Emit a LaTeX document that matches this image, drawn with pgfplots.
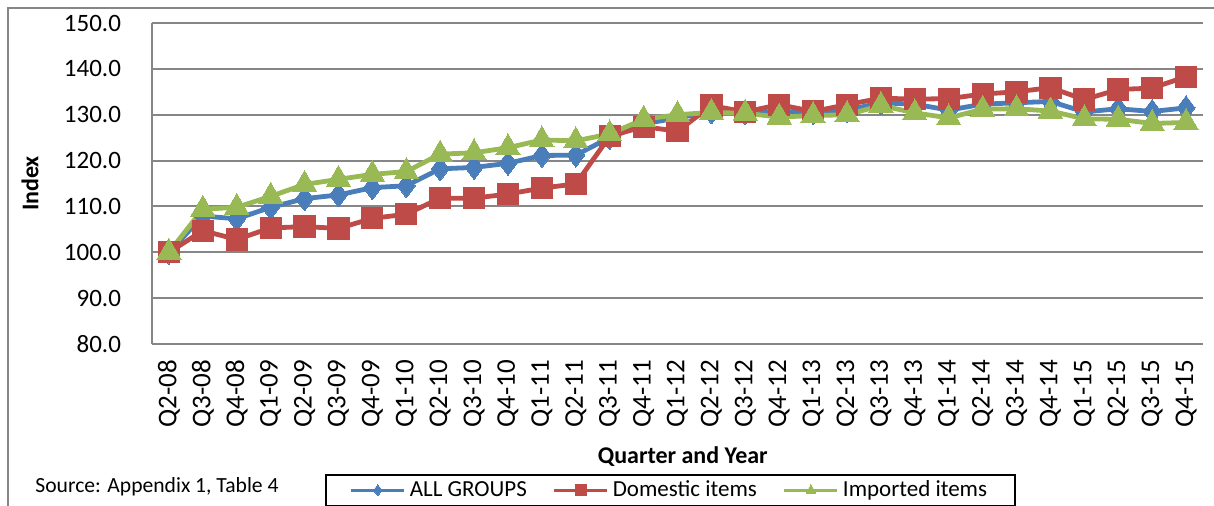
\documentclass[border=0pt]{standalone}
\usepackage{fontspec}
\setmainfont{Carlito}
\usepackage{pgfplots}
\usepackage{pgfplotstable}
\pgfplotsset{compat=1.18}

\definecolor{cblue}{RGB}{74,126,187}
\definecolor{cred}{RGB}{190,75,72}
\definecolor{cgreen}{RGB}{152,185,84}
\definecolor{cgrid}{RGB}{134,134,134}

% x = quarter index (0 = Q2-08 ... 30 = Q4-15)
\pgfplotstableread{
x   all    dom    imp
0   100.0  100.0  100.0
1   107.9  104.7  109.4
2   107.3  102.8  109.8
3   109.8  105.3  112.2
4   111.7  105.6  114.8
5   112.5  105.2  115.9
6   114.1  107.4  117.0
7   114.5  108.3  117.6
8   118.2  111.8  121.4
9   118.5  111.8  121.7
10  119.4  112.7  122.8
11  121.1  114.0  124.5
12  121.2  114.9  124.3
13  125.0  125.3  125.8
14  128.0  127.4  129.0
15  129.3  126.4  130.0
16  130.6  132.0  130.5
17  130.4  130.6  130.3
18  130.7  132.2  129.5
19  130.5  130.7  129.8
20  131.0  132.2  130.0
21  132.6  133.6  132.0
22  132.3  133.4  130.4
23  131.0  133.5  129.3
24  132.3  134.5  131.2
25  132.6  135.0  131.3
26  132.9  135.9  130.8
27  130.6  133.3  129.1
28  131.3  135.5  129.0
29  130.7  135.8  128.1
30  131.5  138.3  128.3
}\cpidata

\begin{document}
\begin{tikzpicture}
\clip (0,0) rectangle (607pt,253pt);
\draw[cgrid, line width=1pt] (4pt,-5pt) -- (4pt,249pt) -- (615pt,249pt);
\node[anchor=west, inner sep=0pt, font=\fontsize{10.8}{12}\selectfont] at (17.5pt,9.5pt) {Source: Appendix 1, Table 4};
\begin{axis}[
  at={(76pt,81pt)}, anchor=south west,
  scale only axis, width=525.5pt, height=160.5pt,
  xmin=-0.5, xmax=30.5, ymin=80, ymax=150,
  ytick={80,90,...,150},
  xtick={0,...,30},
  xticklabels={Q2-08,Q3-08,Q4-08,Q1-09,Q2-09,Q3-09,Q4-09,Q1-10,Q2-10,Q3-10,Q4-10,
    Q1-11,Q2-11,Q3-11,Q4-11,Q1-12,Q2-12,Q3-12,Q4-12,Q1-13,Q2-13,Q3-13,Q4-13,
    Q1-14,Q2-14,Q3-14,Q4-14,Q1-15,Q2-15,Q3-15,Q4-15},
  /pgf/number format/assume math mode=true,
  yticklabel style={/pgf/number format/.cd, fixed, fixed zerofill, precision=1,
    /tikz/.cd, font=\fontsize{12.5}{14}\selectfont, xshift=-12pt},
  xticklabel style={rotate=90, anchor=east, font=\fontsize{13.5}{15}\selectfont, xshift=-4.5pt},
  major tick length=0pt,
  axis lines*=left,
  axis line style={cgrid, line width=1pt},
  ymajorgrids, grid style={cgrid, line width=1pt},
  ylabel={\textbf{Index}},
  ylabel style={at={(axis description cs:-0.116,0.5)}, anchor=center, font=\fontsize{12}{14}\selectfont},
  xlabel={\textbf{Quarter and Year}},
  xlabel style={at={(axis description cs:0.505,-0.35)}, anchor=center, font=\fontsize{12}{14}\selectfont},
  clip=false,
  legend columns=-1,
  legend style={at={(axis description cs:0.1646,-0.405)}, anchor=north west,
    draw=black, line width=0.8pt, font=\fontsize{11.5}{13}\selectfont,
    inner xsep=12pt, inner ysep=1pt,
    /tikz/every even column/.append style={column sep=11pt}},
  legend image code/.code={\draw[#1, line width=1.5pt, mark size=2.8pt, mark repeat=2, mark phase=2]
    plot coordinates {(0pt,0pt) (13.25pt,0pt) (26.5pt,0pt)};},
]
\addplot[cblue, line width=2.4pt, mark=diamond*, mark size=6pt,
  mark options={solid, fill=cblue, draw=cblue, line width=0pt}] table[x=x, y=all] {\cpidata};
\addlegendentry{ALL GROUPS}
\addplot[cred, line width=2.4pt, mark=square*, mark size=5.3pt,
  mark options={solid, fill=cred, draw=cred, line width=0pt}] table[x=x, y=dom] {\cpidata};
\addlegendentry{Domestic items}
\addplot[cgreen, line width=2.4pt, mark=triangle*, mark size=7pt,
  mark options={solid, fill=cgreen, draw=cgreen, line width=0pt}] table[x=x, y=imp] {\cpidata};
\addlegendentry{Imported items}
\end{axis}
\end{tikzpicture}
\end{document}
